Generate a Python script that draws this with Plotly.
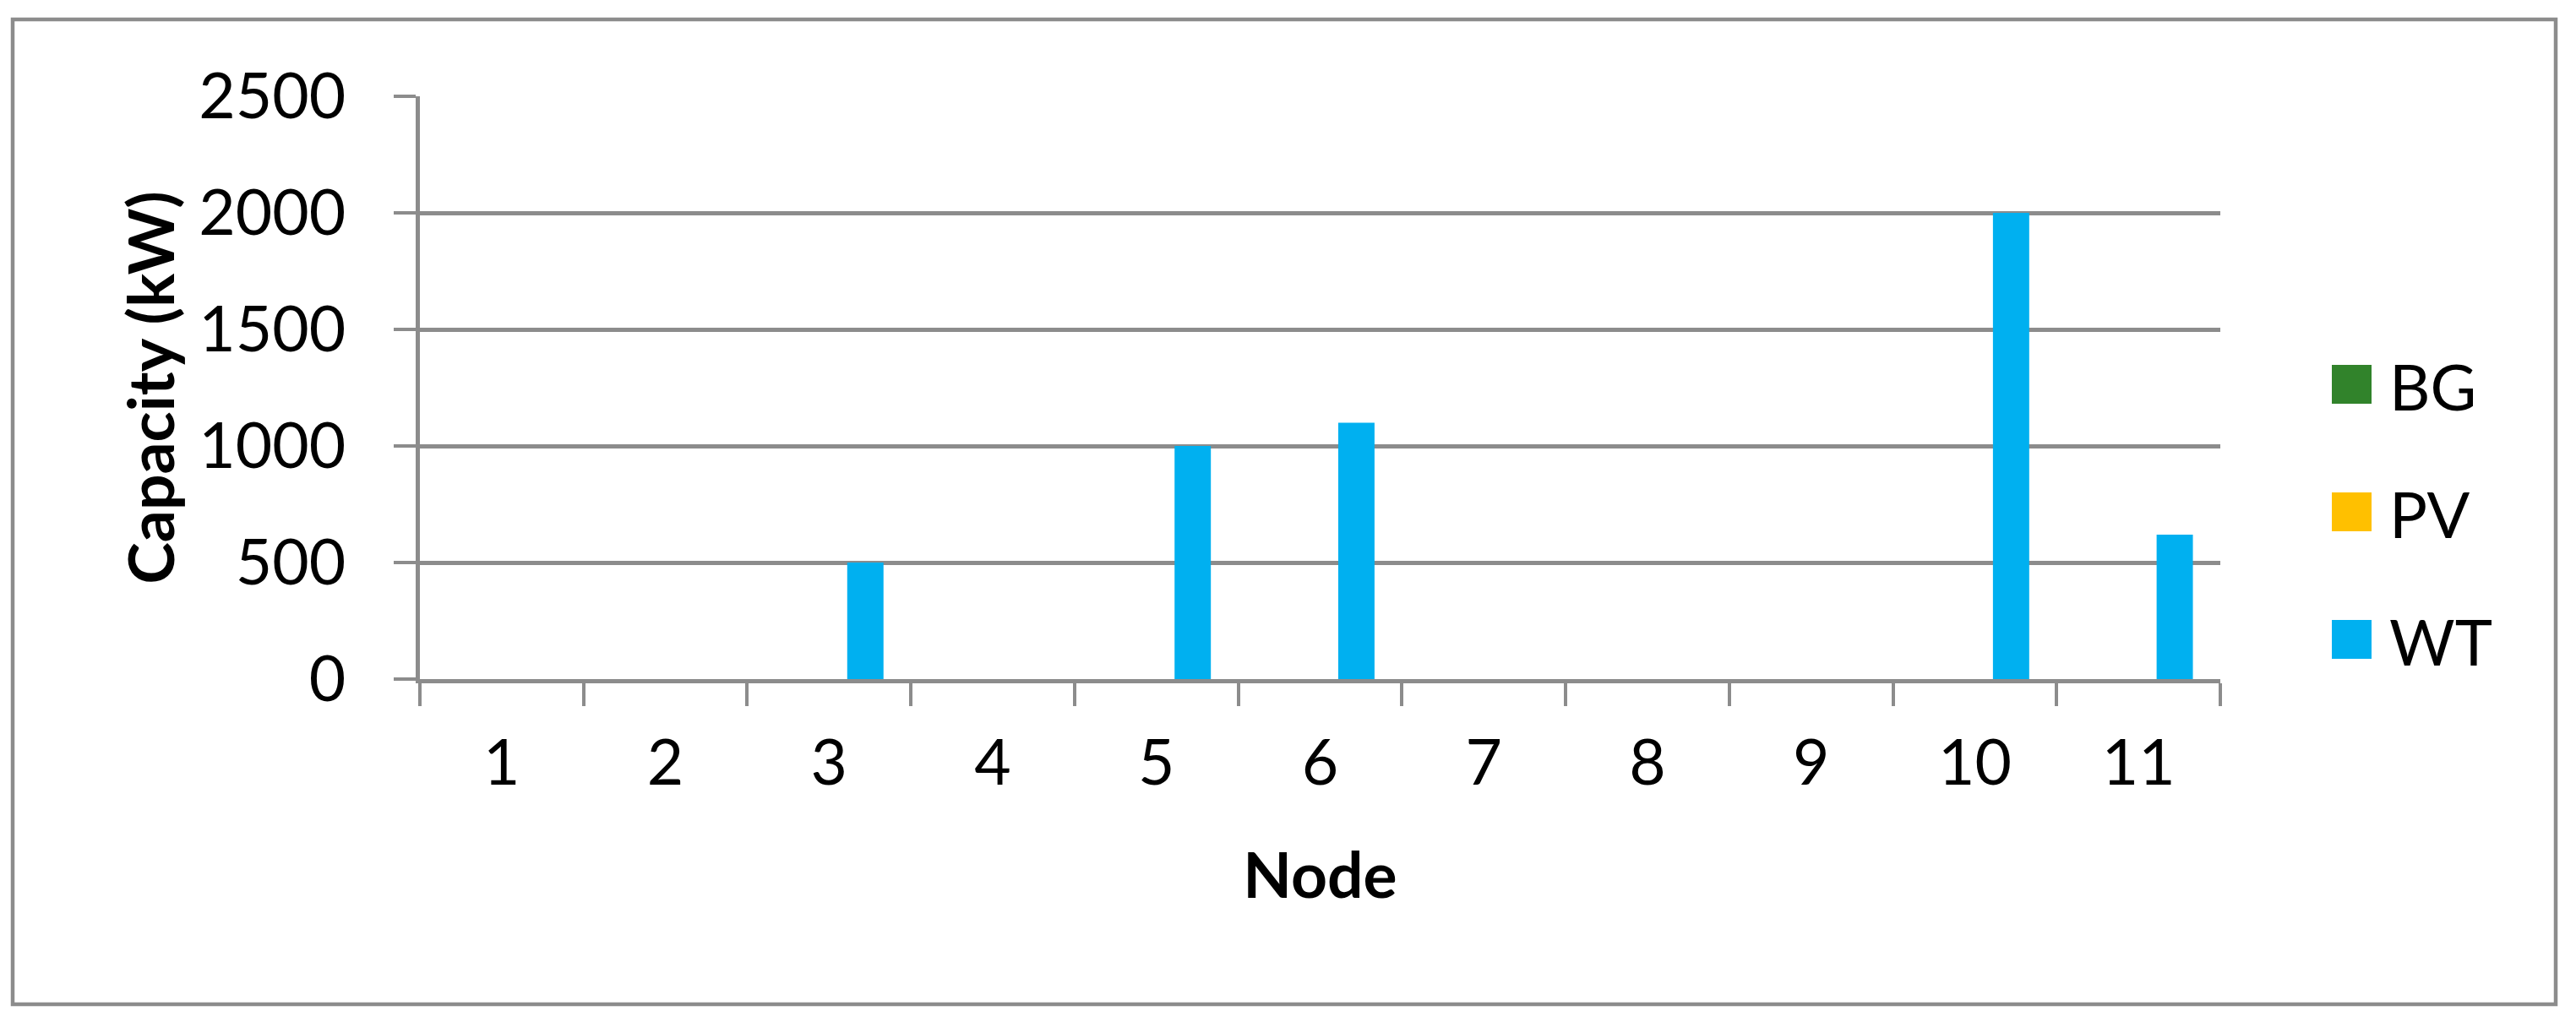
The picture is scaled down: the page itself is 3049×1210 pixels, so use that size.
import plotly.graph_objects as go

# data
nodes = ["1", "2", "3", "4", "5", "6", "7", "8", "9", "10", "11"]
bg_kw = [0, 0, 0, 0, 0, 0, 0, 0, 0, 0, 0]
pv_kw = [0, 0, 0, 0, 0, 0, 0, 0, 0, 0, 0]
wt_kw = [0, 0, 500, 0, 1000, 1100, 0, 0, 0, 2000, 620]

series_names = ["BG", "PV", "WT"]
series_colors = ["#31832B", "#FFC000", "#00B0F0"]
y_ticks = [0, 500, 1000, 1500, 2000, 2500]

# the page body keeps its default 8px margin, so the figure is drawn 8px in
OFF = 8
W, H = 3049 - 2 * OFF, 1210 - 2 * OFF
L, T = 497 - OFF, 114 - OFF
R, B = W - (2628 - OFF), H - (804 - OFF)
GRID = "#8C8C8C"
FONT = "Lato, 'Open Sans', sans-serif"
FS = 75


def px_x(x):
    # reference-page x (px) -> paper coordinate
    return (x - OFF - L) / (W - L - R)


def px_y(y):
    # reference-page y (px) -> paper coordinate
    return (H - B - (y - OFF)) / (H - T - B)


fig = go.Figure()
for name, vals, color in zip(series_names, [bg_kw, pv_kw, wt_kw], series_colors):
    fig.add_trace(go.Bar(x=nodes, y=vals, name=name, marker_color=color,
                         marker_line_width=0, showlegend=False))

# legend drawn by hand so the swatches can match the big squares of the original
shapes = [dict(type="rect", xref="paper", yref="paper",
               x0=px_x(15), x1=px_x(3025), y0=px_y(1189), y1=px_y(23),
               line=dict(color=GRID, width=4.5), layer="below")]
annotations = []
for i, (name, color) in enumerate(zip(series_names, series_colors)):
    cy = 455 + i * 151
    shapes.append(dict(type="rect", xref="paper", yref="paper",
                       x0=px_x(2760), x1=px_x(2807),
                       y0=px_y(cy + 23), y1=px_y(cy - 23),
                       fillcolor=color, line_width=0))
    annotations.append(dict(text=name, xref="paper", yref="paper",
                            x=px_x(2826), y=px_y(cy + 2), xanchor="left",
                            yanchor="middle", showarrow=False,
                            font=dict(size=FS, color="black", family=FONT)))

fig.update_layout(
    width=W,
    height=H,
    margin=dict(l=L, r=R, t=T, b=B, autoexpand=False),
    paper_bgcolor="white",
    plot_bgcolor="white",
    barmode="group",
    bargap=0.335,
    bargroupgap=0,
    font=dict(family=FONT, size=FS, color="black"),
    shapes=shapes,
    annotations=annotations,
    showlegend=False,
)
fig.update_xaxes(
    type="category",
    showline=True, linecolor=GRID, linewidth=4.5,
    ticks="outside", tickson="boundaries", ticklen=27, tickwidth=4, tickcolor=GRID,
    showgrid=False,
    tickfont=dict(size=FS, family=FONT, color="black"),
    ticklabelstandoff=30,
    title=dict(text="<b>Node</b>", font=dict(size=FS, family=FONT, color="black"),
               standoff=68),
)
fig.update_yaxes(
    range=[0, 2500], tickvals=y_ticks,
    showline=True, linecolor=GRID, linewidth=4.5,
    showgrid=True, gridcolor=GRID, gridwidth=4.5, zeroline=False,
    ticks="outside", ticklen=26, tickwidth=4, tickcolor=GRID,
    tickfont=dict(size=FS, family=FONT, color="black"),
    ticklabelstandoff=42,
    title=dict(text="<b>Capacity (kW)</b>", font=dict(size=FS, family=FONT, color="black"),
               standoff=6),
)

fig.write_html("out.html")
